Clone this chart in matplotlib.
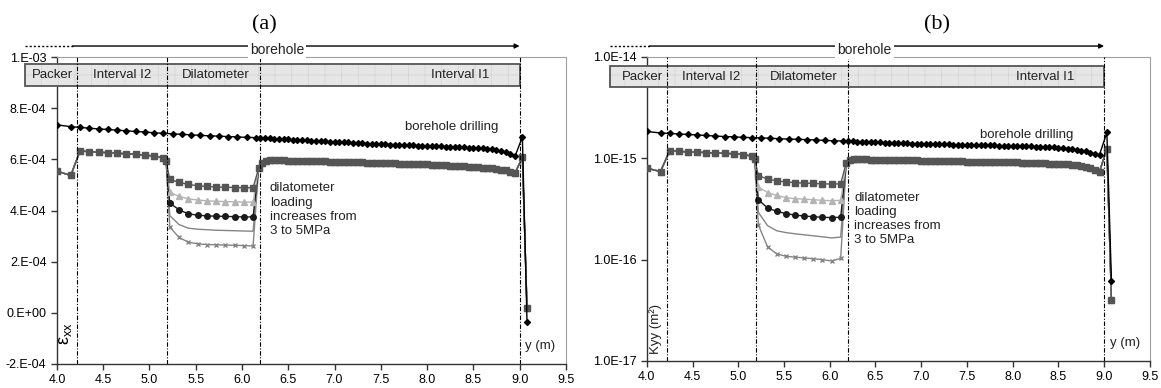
import numpy as np
import matplotlib
matplotlib.use("Agg")
import matplotlib.pyplot as plt
import matplotlib.transforms as mtransforms
from matplotlib.patches import Rectangle
from matplotlib.ticker import FixedLocator, NullLocator

plt.rcParams['font.family'] = ['Liberation Sans', 'DejaVu Sans']
plt.rcParams['hatch.linewidth'] = 0.4

# ---- x positions (m) ----
x_drill = [4.00, 4.15] + list(np.round(np.arange(4.25, 6.151, 0.1), 2)) \
    + list(np.round(np.arange(6.20, 8.951, 0.05), 2)) + [9.03, 9.08]
x_pre = [4.00, 4.15, 4.25, 4.35, 4.45, 4.55, 4.65, 4.75, 4.85, 4.95, 5.05, 5.15, 5.18]
x_dil = [5.22, 5.32, 5.42, 5.52, 5.62, 5.72, 5.82, 5.92, 6.02, 6.12]
x_post = [6.18, 6.22, 6.26] + list(np.round(np.arange(6.30, 8.951, 0.05), 2)) + [9.03, 9.08]

# ---- (a) strain exx, in 1e-4 ----
exx_drill = [7.35, 7.28,
             7.25, 7.22, 7.19, 7.17, 7.14, 7.12, 7.09, 7.07, 7.04, 7.02,
             7.00, 6.98, 6.96, 6.94, 6.92, 6.91, 6.89, 6.88, 6.86, 6.85,
             6.84, 6.83, 6.82, 6.81, 6.80, 6.79, 6.78, 6.77, 6.76, 6.75,
             6.74, 6.73, 6.72, 6.71, 6.70, 6.69, 6.68, 6.67, 6.67, 6.66,
             6.65, 6.64, 6.63, 6.62, 6.61, 6.61, 6.60, 6.59, 6.58, 6.58,
             6.57, 6.56, 6.56, 6.55, 6.54, 6.54, 6.53, 6.52, 6.52, 6.51,
             6.50, 6.50, 6.49, 6.48, 6.47, 6.46, 6.45, 6.44, 6.43, 6.41,
             6.39, 6.36, 6.32, 6.27, 6.20, 6.12,
             6.87, -0.34]
exx_pre = [5.54, 5.37, 6.33, 6.30, 6.28, 6.26, 6.24, 6.22, 6.20, 6.17, 6.13, 6.05, 5.92]
exx_post = [5.65, 5.85, 5.93,
            5.96, 5.96, 5.96, 5.96, 5.95, 5.95, 5.95, 5.94, 5.94, 5.93,
            5.93, 5.92, 5.92, 5.91, 5.91, 5.90, 5.90, 5.89, 5.89, 5.88,
            5.88, 5.87, 5.87, 5.86, 5.86, 5.85, 5.85, 5.84, 5.83, 5.83,
            5.82, 5.82, 5.81, 5.80, 5.80, 5.79, 5.78, 5.77, 5.77, 5.76,
            5.75, 5.74, 5.73, 5.72, 5.71, 5.70, 5.68, 5.67, 5.65, 5.63,
            5.60, 5.57, 5.52, 5.46,
            6.08, 0.20]
exx_dil = [
    [5.22, 5.10, 5.02, 4.97, 4.94, 4.92, 4.91, 4.90, 4.89, 4.89],  # squares
    [4.72, 4.55, 4.46, 4.41, 4.38, 4.36, 4.35, 4.34, 4.33, 4.33],  # triangles
    [4.29, 4.03, 3.87, 3.82, 3.79, 3.78, 3.77, 3.76, 3.75, 3.75],  # circles
    [3.80, 3.45, 3.31, 3.27, 3.25, 3.23, 3.22, 3.21, 3.20, 3.19],  # plain line
    [3.35, 2.95, 2.76, 2.70, 2.67, 2.66, 2.65, 2.64, 2.63, 2.61],  # crosses
]

# ---- (b) permeability Kyy, in 1e-16 m2 ----
kyy_drill = [18.4, 17.8,
             17.6, 17.4, 17.2, 17.0, 16.8, 16.6, 16.4, 16.3, 16.1, 16.0,
             15.9, 15.8, 15.6, 15.5, 15.4, 15.3, 15.2, 15.0, 14.9, 14.8,
             14.7, 14.7, 14.6, 14.6, 14.5, 14.5, 14.4, 14.4, 14.3, 14.3,
             14.2, 14.2, 14.1, 14.1, 14.0, 14.0, 13.9, 13.9, 13.8, 13.8,
             13.7, 13.7, 13.7, 13.6, 13.6, 13.6, 13.6, 13.5, 13.5, 13.5,
             13.4, 13.4, 13.4, 13.3, 13.3, 13.3, 13.3, 13.2, 13.2, 13.1,
             13.1, 13.0, 13.0, 12.9, 12.9, 12.8, 12.7, 12.6, 12.5, 12.3,
             12.1, 11.9, 11.7, 11.4, 11.0, 10.9,
             18.0, 0.62]
kyy_pre = [8.0, 7.4, 11.9, 11.7, 11.6, 11.5, 11.4, 11.3, 11.2, 11.1, 10.9, 10.5, 9.8]
kyy_post = [9.0, 9.6, 9.8,
            9.75, 9.75, 9.75, 9.7, 9.7, 9.7, 9.7, 9.65, 9.65, 9.6,
            9.6, 9.6, 9.55, 9.55, 9.5, 9.5, 9.5, 9.45, 9.45, 9.4,
            9.4, 9.4, 9.35, 9.35, 9.3, 9.3, 9.3, 9.25, 9.25, 9.2,
            9.2, 9.2, 9.15, 9.15, 9.1, 9.1, 9.05, 9.0, 9.0, 8.95,
            8.9, 8.9, 8.85, 8.8, 8.8, 8.75, 8.7, 8.6, 8.5, 8.4,
            8.2, 8.0, 7.7, 7.4,
            12.4, 0.40]
kyy_dil = [
    [6.75, 6.25, 6.00, 5.85, 5.75, 5.70, 5.65, 5.60, 5.58, 5.60],
    [5.20, 4.60, 4.30, 4.10, 4.00, 3.95, 3.90, 3.85, 3.82, 3.85],
    [3.90, 3.24, 3.00, 2.85, 2.75, 2.70, 2.65, 2.62, 2.60, 2.62],
    [2.93, 2.17, 1.93, 1.85, 1.80, 1.76, 1.72, 1.68, 1.64, 1.67],
    [2.20, 1.34, 1.14, 1.08, 1.06, 1.04, 1.02, 1.00, 0.97, 1.03],
]

zone_names = ['Packer', 'Interval I2', 'Dilatometer', 'Interval I1']
zone_label_x = [3.95, 4.70, 5.72, 8.36]
zone_bounds = [4.22, 5.19, 6.2, 9.0]
xticks = [4.0, 4.5, 5.0, 5.5, 6.0, 6.5, 7.0, 7.5, 8.0, 8.5, 9.0, 9.5]

# style for each dilatometer loading case (drawn back to front)
case_styles = [
    dict(color='#555555', marker='s', ms=4.0),
    dict(color='#b4b4b4', marker='^', ms=4.0),
    dict(color='#1a1a1a', marker='o', ms=4.0),
    dict(color='#858585', marker=None, ms=0),
    dict(color='#858585', marker='x', ms=3.5, mew=1.0),
]


def draw_panel(ax, scale, drill, pre, dil, post, band_left, band_y, solid_start):
    for i in reversed(range(len(dil))):
        yv = np.array(pre + dil[i] + post) * scale
        ax.plot(x_pre + x_dil + x_post, yv, lw=1.0, zorder=3, **case_styles[i])
    ax.plot(x_drill, np.array(drill) * scale, color='black', marker='D', ms=3.0,
            lw=1.0, zorder=4)

    trans = mtransforms.blended_transform_factory(ax.transData, ax.transAxes)
    # zone band above the curves
    y0, y1 = band_y
    ax.add_patch(Rectangle((band_left, y0), 9.0 - band_left, y1 - y0, transform=trans,
                           facecolor='#e6e6e6', edgecolor='none', clip_on=False, zorder=5))
    ax.add_patch(Rectangle((band_left, y0), 9.0 - band_left, y1 - y0, transform=trans,
                           facecolor='none', edgecolor='#cfcfcf', hatch='+', lw=0,
                           clip_on=False, zorder=5))
    ax.add_patch(Rectangle((band_left, y0), 9.0 - band_left, y1 - y0, transform=trans,
                           facecolor='none', edgecolor='#555555', lw=1.3,
                           clip_on=False, zorder=6))
    for name, xl in zip(zone_names, zone_label_x):
        ax.text(xl, (y0 + y1) / 2, name, transform=trans, ha='center', va='center',
                fontsize=9.5, color='#222222', zorder=7)
    for xb in zone_bounds:
        ax.plot([xb, xb], [0, 1], transform=trans, color='black', lw=0.8,
                ls=(0, (4, 1.5, 1, 1.5)), zorder=6)

    # borehole arrow above the frame
    ya = 1.036
    ax.plot([band_left, solid_start], [ya, ya], transform=trans, color='black',
            lw=1.0, ls=(0, (1.5, 1.5)), clip_on=False)
    ax.annotate('', xy=(9.0, ya), xytext=(solid_start, ya), xycoords=trans,
                textcoords=trans, annotation_clip=False,
                arrowprops=dict(arrowstyle='-|>', color='black', lw=1.0,
                                mutation_scale=7, shrinkA=0, shrinkB=0))
    ax.text(6.38, 1.022, 'borehole', transform=trans, ha='center', va='center',
            fontsize=10, color='#222222', zorder=8,
            bbox=dict(facecolor='white', edgecolor='none', pad=1.5))

    ax.set_xlim(4.0, 9.5)
    ax.xaxis.set_major_locator(FixedLocator(xticks))
    ax.set_xticklabels(['%.1f' % t for t in xticks])
    for side in ['top', 'right']:
        ax.spines[side].set_color('#a0a0a0')
        ax.spines[side].set_linewidth(0.8)
    for side in ['left', 'bottom']:
        ax.spines[side].set_color('#333333')
        ax.spines[side].set_linewidth(1.0)
    ax.tick_params(direction='out', length=4, width=1.0, labelsize=9, color='#333333')
    ax.text(0.95, 0.06, 'y (m)', transform=ax.transAxes, ha='center', va='center',
            fontsize=9.5, color='#222222')


fig = plt.figure(figsize=(11.61, 3.88), dpi=100)
ax1 = fig.add_axes([0.049, 0.0619, 0.4384, 0.791])
ax2 = fig.add_axes([0.5571, 0.0696, 0.4333, 0.7835])

# (a) strain
draw_panel(ax1, 1e-4, exx_drill, exx_pre, exx_dil, exx_post,
           band_left=3.66, band_y=(0.906, 0.977), solid_start=4.17)
ax1.set_ylim(-2e-4, 1e-3)
ya_ticks = [-2e-4, 0, 2e-4, 4e-4, 6e-4, 8e-4, 1e-3]
ax1.yaxis.set_major_locator(FixedLocator(ya_ticks))
ax1.set_yticklabels(['-2.E-04', '0.E+00', '2.E-04', '4.E-04', '6.E-04', '8.E-04', '1.E-03'])
ax1.text(8.27, 7.25e-4, 'borehole drilling', ha='center', va='center', fontsize=9.5,
         color='#222222')
ax1.text(6.30, 5.1e-4, 'dilatometer\nloading\nincreases from\n3 to 5MPa', ha='left',
         va='top', fontsize=9.5, color='#222222', linespacing=1.25)
ax1.text(0.016, 0.10, r'$\mathregular{\epsilon_{xx}}$', transform=ax1.transAxes,
         rotation=90, ha='center', va='center', fontsize=13)

# (b) permeability
draw_panel(ax2, 1e-16, kyy_drill, kyy_pre, kyy_dil, kyy_post,
           band_left=3.60, band_y=(0.900, 0.971), solid_start=4.03)
ax2.set_yscale('log')
ax2.set_ylim(1e-17, 1e-14)
yb_ticks = [1e-17, 1e-16, 1e-15, 1e-14]
ax2.yaxis.set_major_locator(FixedLocator(yb_ticks))
ax2.yaxis.set_minor_locator(NullLocator())
ax2.set_yticklabels(['1.0E-17', '1.0E-16', '1.0E-15', '1.0E-14'])
ax2.text(8.15, 1.7e-15, 'borehole drilling', ha='center', va='center', fontsize=9.5,
         color='#222222')
ax2.text(6.27, 4.7e-16, 'dilatometer\nloading\nincreases from\n3 to 5MPa', ha='left',
         va='top', fontsize=9.5, color='#222222', linespacing=1.25)
ax2.text(0.018, 0.105, 'Kyy (m²)', transform=ax2.transAxes, rotation=90,
         ha='center', va='center', fontsize=9.5, color='#222222')

# panel titles
fig.text(0.228, 0.936, '(a)', family='Liberation Serif', fontsize=16,
         ha='center', va='center')
fig.text(0.807, 0.936, '(b)', family='Liberation Serif', fontsize=16,
         ha='center', va='center')

fig.savefig('out.png', dpi=100)
